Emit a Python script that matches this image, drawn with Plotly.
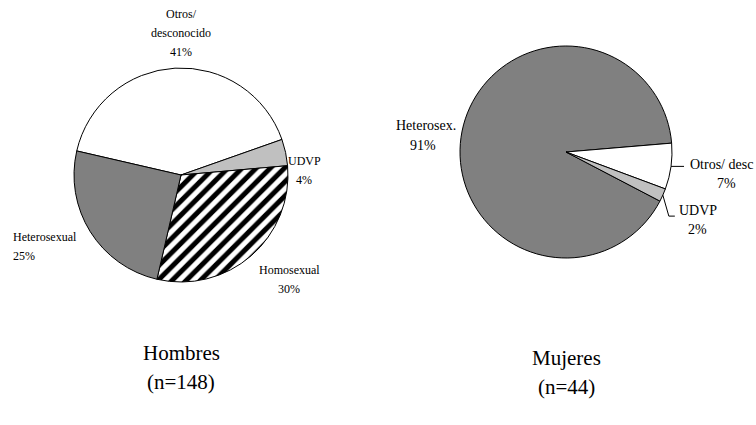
import math
import plotly.graph_objects as go

W, H = 756, 425

# Hombres (n=148)
men_labels = ["Otros/<br>desconocido", "UDVP", "Homosexual", "Heterosexual"]
men_values = [41, 4, 30, 25]
men_colors = ["#ffffff", "#c0c0c0", "#ffffff", "#808080"]
men_patterns = ["", "", "/", ""]

# Mujeres (n=44)
women_labels = ["Heterosex.", "Otros/ desc", "UDVP"]
women_values = [91, 7, 2]
women_colors = ["#808080", "#ffffff", "#c0c0c0"]

titles = [["Hombres", "(n=148)"], ["Mujeres", "(n=44)"]]

FONT = "Liberation Serif"

# pie geometry in pixels: centre x, centre y, radius, start angle (deg clockwise from 12 o'clock)
LEFT = dict(cx=181, cy=175, r=107, rot=283)
RIGHT = dict(cx=566, cy=152, r=106, rot=117.6)


def domain(g):
    return dict(
        x=[(g["cx"] - g["r"]) / W, (g["cx"] + g["r"]) / W],
        y=[1 - (g["cy"] + g["r"]) / H, 1 - (g["cy"] - g["r"]) / H],
    )


def edge_point(g, values, idx):
    """Pixel point on the rim at the middle of slice idx."""
    total = sum(values)
    start = g["rot"] + 360 * sum(values[:idx]) / total
    mid = math.radians(start + 180 * values[idx] / total)
    return g["cx"] + g["r"] * math.sin(mid), g["cy"] - g["r"] * math.cos(mid)


def px(x, y):
    return x / W, 1 - y / H


fig = go.Figure()

fig.add_trace(go.Pie(
    labels=men_labels, values=men_values, sort=False, direction="clockwise",
    rotation=LEFT["rot"], domain=domain(LEFT), textinfo="none", hoverinfo="label+percent",
    marker=dict(colors=men_colors, line=dict(color="#000000", width=1),
                pattern=dict(shape=men_patterns, fgcolor="#000000", bgcolor="#ffffff",
                             size=10, solidity=0.5)),
    showlegend=False,
))

fig.add_trace(go.Pie(
    labels=women_labels, values=women_values, sort=False, direction="clockwise",
    rotation=RIGHT["rot"], domain=domain(RIGHT), textinfo="none", hoverinfo="label+percent",
    marker=dict(colors=women_colors, line=dict(color="#000000", width=1)),
    showlegend=False,
))

annotations = []


def add_text(text, x, y, anchor, size):
    xx, yy = px(x, y)
    annotations.append(dict(
        text=text, x=xx, y=yy, xref="paper", yref="paper",
        xanchor=anchor, yanchor="middle", showarrow=False,
        font=dict(family=FONT, size=size, color="#000000"),
    ))


# label placement: (x of name, x of percentage, y of percentage line, anchor, font size)
men_label_pos = [(181, 181, 52, "center", 12), (304, 304, 180, "center", 12),
                 (289, 289, 289, "center", 12), (11, 11, 256, "left", 12)]
women_label_pos = [(426, 423, 145, "center", 14), (721, 726, 184, "center", 14),
                   (698, 697, 229, "center", 14)]
LINE_GAP = 19

for labels, values, pos in ((men_labels, men_values, men_label_pos),
                            (women_labels, women_values, women_label_pos)):
    for lab, val, (xn, xp, y, anc, fs) in zip(labels, values, pos):
        lines = lab.split("<br>")
        n = len(lines)
        for i, line in enumerate(lines):
            add_text(line, xn, y - (n - i) * LINE_GAP, anc, fs)
        add_text(f"{val}%", xp, y, anc, fs)

# panel titles
for t, (x, y) in zip(titles, [(181, 353), (566, 358)]):
    add_text(t[0], x, y, "center", 21)
    add_text(t[1], x, y + 29, "center", 21)

# leader lines for the two small slices of the right pie
shapes = []
ox, oy = edge_point(RIGHT, women_values, 1)
x0, y0 = px(ox, oy)
x1, y1 = px(ox + 13, oy)
shapes.append(dict(type="line", xref="paper", yref="paper", x0=x0, y0=y0, x1=x1, y1=y1,
                   line=dict(color="#000000", width=1)))
ux, uy = edge_point(RIGHT, women_values, 2)
p0 = px(ux, uy)
p1 = px(ux + 6, uy + 21)
p2 = px(ux + 12, uy + 21)
shapes.append(dict(type="path", xref="paper", yref="paper",
                   path=f"M {p0[0]},{p0[1]} L {p1[0]},{p1[1]} L {p2[0]},{p2[1]}",
                   line=dict(color="#000000", width=1)))

fig.update_layout(
    width=W, height=H, margin=dict(l=0, r=0, t=0, b=0),
    paper_bgcolor="#ffffff", plot_bgcolor="#ffffff",
    annotations=annotations, shapes=shapes,
    font=dict(family=FONT),
)

fig.write_html("out.html")
